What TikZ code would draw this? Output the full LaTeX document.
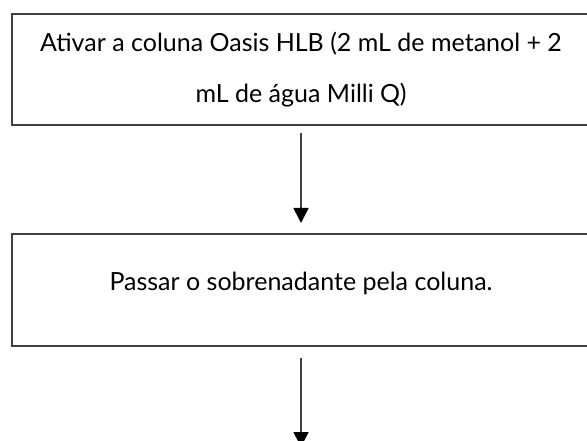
\documentclass[tikz,border=0pt]{standalone}
\usepackage{fontspec}
\setmainfont{Lato}
\usetikzlibrary{positioning,arrows.meta}

\begin{document}
\begin{tikzpicture}
          [x=1pt, y=1pt,
           stepbox/.style={draw=black!75, line width=1.8pt, rectangle, outer sep=0pt,
             minimum width=578pt, inner sep=0pt, align=center,
             font=\fontsize{25}{51}\selectfont},
           flow/.style={draw=black!75, line width=1.6pt,
             -{Triangle[length=15pt, width=15pt, color=black]},
             shorten <=8pt, shorten >=11pt}]
          \useasboundingbox (0,0) rectangle (587,-441);
          \clip (0,0) rectangle (587,-441);
          \node (ativar) [stepbox, minimum height=111pt] at (301,-69.5)
            {Ativar a coluna Oasis HLB (2 mL de metanol + 2\\mL de água Milli Q)};
          \node (passar) [stepbox, minimum height=112pt, text depth=17pt,
            below = 109pt of ativar] {Passar o sobrenadante pela coluna.};
          \coordinate[below = 101pt of passar] (fim);

          \draw[flow] (ativar) -- (passar);
          \draw[flow, shorten <=12pt, shorten >=0pt] (passar) -- (fim);
        \end{tikzpicture}
\end{document}
